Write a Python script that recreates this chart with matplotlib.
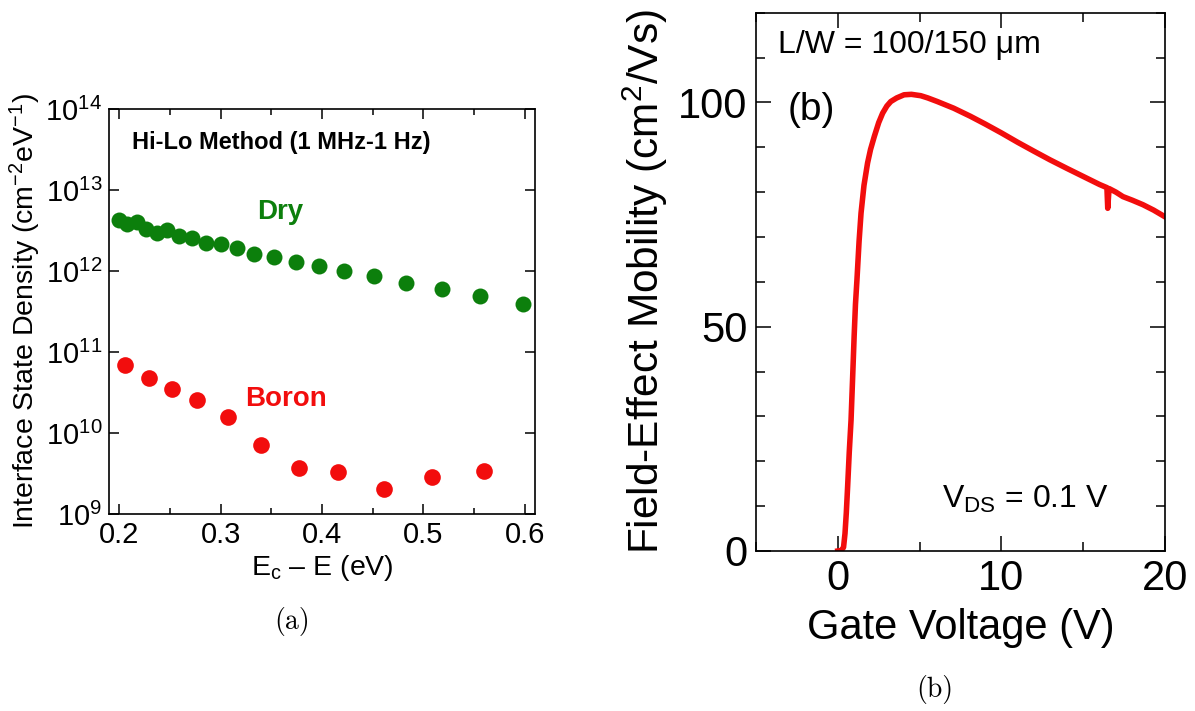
import matplotlib
matplotlib.use('Agg')
import matplotlib.pyplot as plt
from matplotlib.ticker import MultipleLocator, LogLocator, NullLocator

plt.rcParams['font.family'] = ['Liberation Sans', 'DejaVu Sans']
plt.rcParams['mathtext.fontset'] = 'custom'
plt.rcParams['mathtext.rm'] = 'Liberation Sans'
plt.rcParams['mathtext.it'] = 'Liberation Sans:italic'
plt.rcParams['mathtext.bf'] = 'Liberation Sans:bold'

# (a) interface state density, Hi-Lo method
dry_E = [0.200, 0.208, 0.218, 0.226, 0.237, 0.247, 0.259, 0.272, 0.286, 0.300,
         0.316, 0.333, 0.353, 0.374, 0.397, 0.422, 0.451, 0.483, 0.518, 0.556, 0.598]
dry_Dit = [4.25e12, 3.76e12, 4.0e12, 3.3e12, 2.98e12, 3.2e12, 2.69e12, 2.56e12, 2.24e12, 2.13e12,
           1.93e12, 1.62e12, 1.50e12, 1.30e12, 1.15e12, 1.01e12, 8.75e11, 7.15e11, 6.0e11, 4.9e11, 3.9e11]

boron_E = [0.206, 0.229, 0.252, 0.277, 0.307, 0.340, 0.377, 0.416, 0.461, 0.508, 0.560]
boron_Dit = [7.0e10, 4.8e10, 3.46e10, 2.55e10, 1.57e10, 7.2e9, 3.66e9, 3.27e9, 2.03e9, 2.9e9, 3.44e9]

# (b) field-effect mobility vs gate voltage
vg = [0.0, 0.2, 0.35, 0.44, 0.52, 0.6, 0.7, 0.81, 0.9, 1.0, 1.08, 1.17, 1.3, 1.42, 1.6,
      1.82, 2.0, 2.23, 2.5, 2.74, 3.0, 3.24, 3.6, 4.05, 4.5, 5.07, 5.5, 6.08, 7.09, 8.11,
      9.0, 10.0, 11.0, 12.0, 12.97, 14.0, 15.0, 16.0, 16.45, 16.5, 16.58, 17.0, 17.43,
      18.0, 18.65, 19.3, 20.0]
mu = [0.0, 0.1, 0.8, 3.9, 8.5, 14.3, 22.0, 29.2, 38.0, 48.0, 55.0, 60.4, 69.0, 75.3, 81.5,
      86.5, 89.5, 92.4, 95.5, 97.6, 99.2, 100.2, 101.0, 101.7, 101.8, 101.5, 101.0, 100.2, 98.7, 96.9,
      95.2, 93.2, 91.1, 89.1, 87.2, 85.3, 83.5, 81.7, 81.0, 76.4, 80.8, 80.0, 79.0,
      78.2, 77.2, 76.0, 74.5]

green = '#0c7f0c'
red = '#f20d0d'

W, H = 1195, 711
fig = plt.figure(figsize=(W / 100, H / 100), dpi=100)

def px_axes(x0, y0, x1, y1):
    return fig.add_axes([x0 / W, 1 - y1 / H, (x1 - x0) / W, (y1 - y0) / H])

ax1 = px_axes(109, 109, 535, 514)
ax2 = px_axes(756, 12.7, 1165, 551)

for ax in (ax1, ax2):
    for s in ax.spines.values():
        s.set_linewidth(1.2)
    ax.tick_params(which='both', direction='in', top=True, right=True, width=1.1)

# ---- (a)
ax1.semilogy(dry_E, dry_Dit, 'o', color=green, markersize=11.5, markeredgewidth=0)
ax1.semilogy(boron_E, boron_Dit, 'o', color=red, markersize=12, markeredgewidth=0)
ax1.set_xlim(0.19, 0.61)
ax1.set_ylim(1e9, 1e14)
ax1.xaxis.set_major_locator(MultipleLocator(0.1))
ax1.xaxis.set_minor_locator(MultipleLocator(0.05))
ax1.yaxis.set_major_locator(LogLocator(base=10, numticks=10))
ax1.yaxis.set_minor_locator(NullLocator())
ax1.tick_params(which='major', length=7, labelsize=21, pad=5)
ax1.tick_params(which='minor', length=4)
ax1.set_xlabel('E$_\\mathregular{c}$ \u2013 E (eV)', fontsize=20.5, labelpad=3)
ax1.set_ylabel('Interface State Density (cm$^{-2}$eV$^{-1}$)', fontsize=20.5, labelpad=2)

ax1.text(0.054, 0.918, 'Hi-Lo Method (1 MHz-1 Hz)', transform=ax1.transAxes,
         fontsize=17, fontweight='bold', ha='left', va='center')
ax1.text(0.401, 0.746, 'Dry', transform=ax1.transAxes, color=green,
         fontsize=20, fontweight='bold', ha='center', va='center')
ax1.text(0.415, 0.284, 'Boron', transform=ax1.transAxes, color=red,
         fontsize=20, fontweight='bold', ha='center', va='center')

# ---- (b)
ax2.plot(vg, mu, '-', color=red, linewidth=4, solid_joinstyle='round')
ax2.set_xlim(-5, 20)
ax2.set_ylim(0, 120)
ax2.xaxis.set_major_locator(MultipleLocator(10))
ax2.xaxis.set_minor_locator(MultipleLocator(5))
ax2.yaxis.set_major_locator(MultipleLocator(50))
ax2.yaxis.set_minor_locator(MultipleLocator(10))
ax2.tick_params(which='major', length=11, labelsize=30, pad=6)
ax2.tick_params(which='minor', length=6.5)
ax2.set_xlabel('Gate Voltage (V)', fontsize=30, labelpad=6)
ax2.set_ylabel('Field-Effect Mobility (cm$^2$/Vs)', fontsize=30.5, labelpad=6)

ax2.text(0.054, 0.94, 'L/W = 100/150 \u03bcm', transform=ax2.transAxes,
         fontsize=23, ha='left', va='center')
ax2.text(0.135, 0.82, '(b)', transform=ax2.transAxes, fontsize=28, ha='center', va='center')
ax2.text(0.454, 0.096, 'V$_\\mathregular{DS}$ = 0.1 V', transform=ax2.transAxes,
         fontsize=23, ha='left', va='center')

# sub-figure captions
fig.text(292 / W, 1 - 622 / H, '(a)', family='cmr10', fontsize=20, ha='center', va='center')
fig.text(935 / W, 1 - 690 / H, '(b)', family='cmr10', fontsize=20, ha='center', va='center')

fig.savefig('out.png', dpi=100, facecolor='w')
